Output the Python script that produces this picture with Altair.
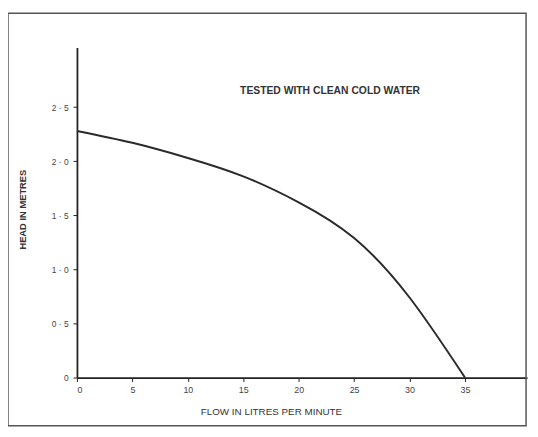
import altair as alt
import pandas as pd

flow = [0, 5, 10, 15, 20, 25, 30, 35]
head = [2.28, 2.17, 2.03, 1.86, 1.62, 1.29, 0.74, 0.0]
x_ticks = [0, 5, 10, 15, 20, 25, 30, 35]
y_ticks = [0, 0.5, 1.0, 1.5, 2.0, 2.5]
note = "TESTED WITH CLEAN COLD WATER"

df = pd.DataFrame({"flow": flow, "head": head})

W, H = 457, 335
FONT = "Liberation Sans"

line = alt.Chart(df).mark_line(interpolate="natural", color="#2a2a2a", strokeWidth=2).encode(
    x=alt.X("flow:Q", scale=alt.Scale(domain=[0, 40.6], nice=False),
            axis=alt.Axis(values=x_ticks, title="FLOW IN LITRES PER MINUTE", grid=False,
                          domainColor="#222", domainWidth=1.8, tickColor="#222", tickSize=4,
                          labelFontSize=9, labelColor="#444", labelFont=FONT, labelPadding=4,
                          titleFontSize=10, titleColor="#333", titleFont=FONT,
                          titleFontWeight="normal", titleX=197, titleY=29)),
    y=alt.Y("head:Q", scale=alt.Scale(domain=[0, 3.05], nice=False),
            axis=alt.Axis(values=y_ticks, title="HEAD IN METRES", grid=False,
                          labelExpr="datum.value == 0 ? '0' : replace(format(datum.value, '.1f'), '.', ' · ')",
                          domainColor="#222", domainWidth=1.8, tickColor="#222", tickSize=4,
                          labelFontSize=8.5, labelColor="#444", labelFont=FONT, labelPadding=5,
                          titleFontSize=9.5, titleColor="#333", titleFont=FONT,
                          titleFontWeight="bold", titleX=-50, titleY=164)),
)

frame = alt.Chart(pd.DataFrame({"a": [0]})).mark_rect(filled=False, stroke="#555", strokeWidth=1.5).encode(
    x=alt.value(-70), x2=alt.value(456), y=alt.value(-35), y2=alt.value(384)
)

label = alt.Chart(pd.DataFrame({"t": [note]})).mark_text(
    fontSize=10.5, fontWeight="bold", color="#333", font=FONT
).encode(x=alt.value(257), y=alt.value(44), text="t:N")

chart = alt.layer(frame, line, label).properties(
    width=W, height=H,
    autosize=alt.AutoSizeParams(type="none"),
    padding={"left": 70, "top": 37, "right": 3, "bottom": 50},
).configure_view(stroke=None)

chart.save("out.html", embed_options={"renderer": "svg", "actions": False})
